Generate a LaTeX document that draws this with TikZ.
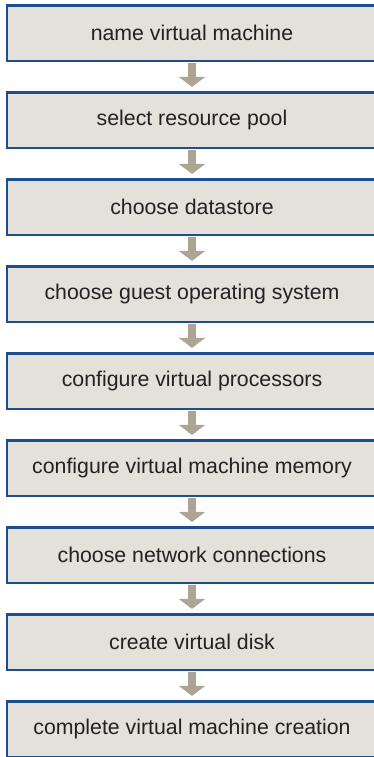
\documentclass[tikz,border=0pt]{standalone}
\usepackage{fontspec}
\setmainfont{Liberation Sans}
\usetikzlibrary{arrows.meta}
\definecolor{boxfill}{HTML}{E4E0DA}
\definecolor{boxline}{HTML}{1D4F8E}
\definecolor{arrowcol}{HTML}{ACA594}
\definecolor{txt}{HTML}{222222}
\tikzset{
  stepbox/.style={rectangle, draw=boxline, fill=boxfill, line width=2.2pt,
    minimum width=370pt, minimum height=55.5pt, inner sep=0pt,
    text=txt, font=\fontsize{21.3}{25}\selectfont},
  flowarrow/.style={draw=arrowcol, line width=8pt,
    -{Triangle[width=26pt,length=10pt]}, shorten >=4.5pt, shorten <=1pt}
}
\begin{document}
\begin{tikzpicture}[x=1pt,y=1pt]
\useasboundingbox (0,0) rectangle (374,-757);
\clip (0,0) rectangle (374,-757);
\node[stepbox] (s1) at (192,-33.25) {name virtual machine};
\node[stepbox] (s2) at (192,-120.25) {select resource pool};
\node[stepbox] (s3) at (192,-207.25) {choose datastore};
\node[stepbox] (s4) at (192,-294.25) {choose guest operating system};
\node[stepbox] (s5) at (192,-381.25) {configure virtual processors};
\node[stepbox] (s6) at (192,-468.25) {configure virtual machine memory};
\node[stepbox] (s7) at (192,-555.25) {choose network connections};
\node[stepbox] (s8) at (192,-642.25) {create virtual disk};
\node[stepbox] (s9) at (192,-729.25) {complete virtual machine creation};
\foreach \a/\b in {s1/s2,s2/s3,s3/s4,s4/s5,s5/s6,s6/s7,s7/s8,s8/s9}
  \draw[flowarrow] (\a.south) -- (\b.north);
\end{tikzpicture}
\end{document}
